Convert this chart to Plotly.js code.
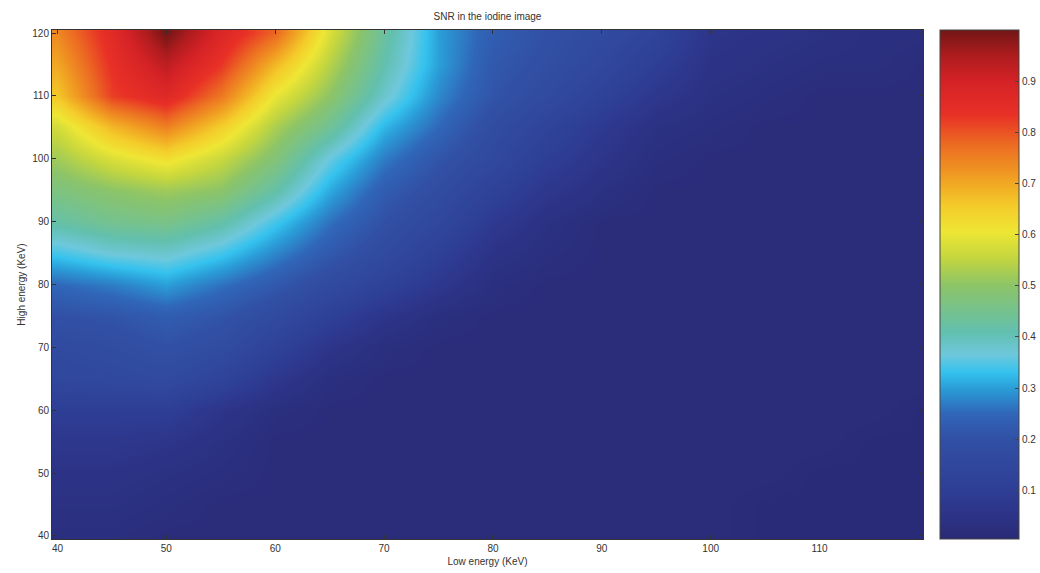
<!DOCTYPE html>
<html>
<head>
<meta charset="utf-8">
<script src="https://cdn.plot.ly/plotly-3.0.1.min.js"></script>
<style>html,body{margin:0;padding:0;background:#fff;}#chart{width:1040px;height:573px;}</style>
</head>
<body>
<div id="chart"></div>
<script>
// Low energy (x, KeV) and High energy (y, KeV) sample positions
var lowEnergy = [40,45,50,55,60,65,70,75,80,85,90,95,100,105,110,115,120];
var highEnergy = [40,45,50,55,60,65,70,75,80,85,90,95,100,105,110,115,120];

// SNR rows, one per high-energy value (bottom to top)
var snr40  = [0.03,0.03,0.02,0.02,0.02,0.02,0.02,0.02,0.02,0.02,0.02,0.02,0.02,0.01,0.01,0.01,0.01];
var snr45  = [0.04,0.04,0.03,0.02,0.02,0.02,0.02,0.02,0.02,0.02,0.02,0.02,0.02,0.01,0.01,0.01,0.01];
var snr50  = [0.05,0.05,0.04,0.03,0.02,0.02,0.02,0.02,0.02,0.02,0.02,0.02,0.02,0.02,0.01,0.01,0.01];
var snr55  = [0.07,0.07,0.06,0.04,0.02,0.02,0.02,0.02,0.02,0.02,0.02,0.02,0.02,0.02,0.02,0.01,0.01];
var snr60  = [0.10,0.10,0.10,0.06,0.03,0.02,0.02,0.02,0.02,0.02,0.02,0.02,0.02,0.02,0.02,0.02,0.01];
var snr65  = [0.15,0.16,0.17,0.13,0.07,0.03,0.02,0.02,0.02,0.02,0.02,0.02,0.02,0.02,0.02,0.02,0.02];
var snr70  = [0.17,0.18,0.20,0.18,0.12,0.06,0.03,0.02,0.02,0.02,0.02,0.02,0.02,0.02,0.02,0.02,0.02];
var snr75  = [0.20,0.21,0.23,0.21,0.17,0.11,0.06,0.03,0.02,0.02,0.02,0.02,0.02,0.02,0.02,0.02,0.02];
var snr80  = [0.25,0.27,0.30,0.26,0.22,0.17,0.12,0.07,0.03,0.02,0.02,0.02,0.02,0.02,0.02,0.02,0.02];
var snr85  = [0.34,0.37,0.38,0.34,0.28,0.22,0.17,0.11,0.05,0.03,0.02,0.02,0.02,0.02,0.02,0.02,0.02];
var snr90  = [0.42,0.45,0.46,0.42,0.34,0.26,0.20,0.15,0.08,0.04,0.02,0.02,0.02,0.02,0.02,0.02,0.02];
var snr95  = [0.47,0.50,0.52,0.50,0.42,0.31,0.23,0.18,0.12,0.07,0.04,0.02,0.02,0.02,0.02,0.02,0.02];
var snr100 = [0.52,0.58,0.62,0.56,0.48,0.36,0.27,0.21,0.16,0.10,0.06,0.03,0.02,0.02,0.02,0.02,0.02];
var snr105 = [0.57,0.68,0.75,0.65,0.53,0.44,0.32,0.25,0.18,0.13,0.08,0.04,0.03,0.02,0.02,0.02,0.02];
var snr110 = [0.66,0.82,0.87,0.76,0.60,0.50,0.38,0.28,0.21,0.17,0.12,0.07,0.04,0.03,0.02,0.02,0.02];
var snr115 = [0.70,0.84,0.93,0.83,0.68,0.54,0.41,0.30,0.22,0.19,0.15,0.10,0.05,0.04,0.03,0.03,0.02];
var snr120 = [0.74,0.86,1.00,0.88,0.78,0.58,0.43,0.30,0.23,0.20,0.17,0.13,0.06,0.05,0.04,0.03,0.03];

var colorTicks = [0.1,0.2,0.3,0.4,0.5,0.6,0.7,0.8,0.9];
var xTicks = [40,50,60,70,80,90,100,110];
var yTicks = [40,50,60,70,80,90,100,110,120];

var z = [snr40,snr45,snr50,snr55,snr60,snr65,snr70,snr75,snr80,snr85,snr90,snr95,snr100,snr105,snr110,snr115,snr120];

var cmin = 0.005, cmax = 1.0;
function pos(v){ return (v - cmin) / (cmax - cmin); }
var jetScan = [
  [0, '#2a2a76'],
  [pos(0.05), '#2c3386'],
  [pos(0.1), '#2e3e95'],
  [pos(0.2), '#3150a5'],
  [pos(0.25), '#3066b8'],
  [pos(0.3), '#2a9ed8'],
  [pos(0.33), '#34c2ee'],
  [pos(0.365), '#6ec8dc'],
  [pos(0.41), '#62c0ae'],
  [pos(0.5), '#8cc468'],
  [pos(0.555), '#c4d63e'],
  [pos(0.605), '#eee634'],
  [pos(0.655), '#f4cc2a'],
  [pos(0.715), '#f09c22'],
  [pos(0.775), '#ec6c22'],
  [pos(0.835), '#e83026'],
  [pos(0.9), '#d42226'],
  [pos(0.95), '#ae1c1e'],
  [1, '#721616']
];

var font = {family: 'Liberation Sans, Arial, sans-serif', size: 10, color: '#333'};

var trace = {
  type: 'heatmap',
  x: lowEnergy,
  y: highEnergy,
  z: z,
  zsmooth: 'best',
  zmin: cmin,
  zmax: cmax,
  colorscale: jetScan,
  showscale: true,
  colorbar: {
    x: 1.0195, xanchor: 'left', xref: 'paper',
    y: 0.5, yanchor: 'middle', len: 1, lenmode: 'fraction',
    thickness: 79, thicknessmode: 'pixels',
    xpad: 0, ypad: 0,
    outlinewidth: 1, outlinecolor: '#444',
    tickvals: colorTicks,
    ticktext: colorTicks.map(function(v){return String(v);}),
    ticks: 'inside', ticklen: 4, tickcolor: '#444',
    tickfont: font
  }
};

var layout = {
  width: 1040, height: 573,
  margin: {l: 52, r: 117, t: 30, b: 34, autoexpand: false},
  paper_bgcolor: '#fff', plot_bgcolor: '#fff',
  font: font,
  title: {text: 'SNR in the iodine image', x: 0.5, xref: 'paper', y: 1 - 16/573, yref: 'container', yanchor: 'middle', font: {family: 'Liberation Sans, Arial, sans-serif', size: 10, color: '#333'}},
  xaxis: {
    range: [39.5, 119.5],
    tickvals: xTicks,
    ticks: 'inside', ticklen: 4, tickcolor: '#333',
    showline: true, linecolor: '#333', linewidth: 1, mirror: 'ticks',
    showgrid: false, zeroline: false,
    tickfont: font,
    title: {text: 'Low energy (KeV)', font: font, standoff: 4}
  },
  yaxis: {
    range: [39.5, 120.5],
    tickvals: yTicks,
    ticks: 'inside', ticklen: 4, tickcolor: '#333',
    showline: true, linecolor: '#333', linewidth: 1, mirror: 'ticks',
    showgrid: false, zeroline: false,
    tickfont: font,
    title: {text: 'High energy (KeV)', font: font, standoff: 4}
  }
};

Plotly.newPlot('chart', [trace], layout, {displayModeBar: false, staticPlot: true});
</script>
</body>
</html>
